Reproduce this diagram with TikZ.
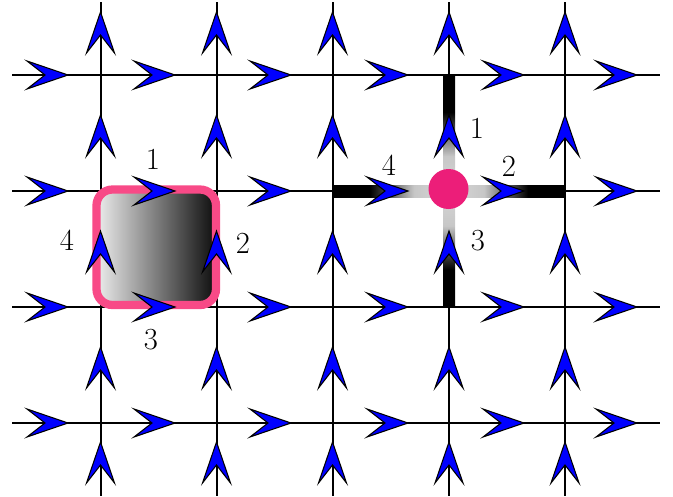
\documentclass[tikz,border=0pt]{standalone}
\definecolor{arrowblue}{RGB}{0,0,255}
\definecolor{boxpink}{RGB}{248,74,135}
\definecolor{dotpink}{RGB}{236,30,121}
\pgfdeclarehorizontalshading{armL}{100bp}{color(0bp)=(black); color(41bp)=(black); color(60bp)=(black!22); color(75bp)=(black!16); color(100bp)=(black!16)}
\pgfdeclarehorizontalshading{armR}{100bp}{color(0bp)=(black!16); color(25bp)=(black!16); color(40bp)=(black!22); color(59bp)=(black); color(100bp)=(black)}
\pgfdeclareverticalshading{armB}{100bp}{color(0bp)=(black); color(41bp)=(black); color(60bp)=(black!22); color(75bp)=(black!16); color(100bp)=(black!16)}
\pgfdeclareverticalshading{armT}{100bp}{color(0bp)=(black!16); color(25bp)=(black!16); color(40bp)=(black!22); color(59bp)=(black); color(100bp)=(black)}
\newcommand\myharrow[2]{\filldraw[arrowhead] (#1,#2) -- ++(-41,-14) -- ++(18,14) -- ++(-18,14) -- cycle;}
\newcommand\myvarrow[2]{\filldraw[arrowhead] (#1,#2) -- ++(-14,41) -- ++(14,-18) -- ++(14,18) -- cycle;}
\begin{document}
\begin{tikzpicture}[x=0.75pt,y=-0.75pt,
  gridline/.style={line width=1.5pt,black},
  arrowhead/.style={fill=arrowblue,draw=black,line width=0.8pt,line join=miter},
  pinkbox/.style={draw=boxpink,line width=6.2pt,rounded corners=12pt,left color=black!7,right color=black!95},
  hubdot/.style={circle,fill=dotpink,minimum size=30pt,inner sep=0pt},
  lbl/.style={inner sep=0pt,font=\fontsize{23}{27}\selectfont}]
\path[use as bounding box] (0,0) rectangle (673,496);
% grid
\foreach \y in {75,191,307,423} \draw[gridline] (12,\y) -- (660,\y);
\foreach \x in {100.5,216.5,332.5,449,565} \draw[gridline] (\x,2) -- (\x,496);
% faded arms around the hub
\shade[shading=armL] (332.5,185) rectangle (449,197);
\shade[shading=armR] (449,185) rectangle (565,197);
\shade[shading=armT] (443,75) rectangle (455,191);
\shade[shading=armB] (443,191) rectangle (455,307);
% pink box
\path[pinkbox] (96.5,189.5) rectangle (216,305);
% hub dot
\node[hubdot] (hub) at (448.5,189) {};
% arrows
\foreach \y in {75,191,307,423}
  \foreach \t in {68,175,291,408,524,637} {\myharrow{\t}{\y}}
\foreach \x in {100.5,216.5,332.5,449,565}
  \foreach \t in {12,115,231,347,442} {\myvarrow{\x}{\t}}
% labels
\node[lbl] (sq1) at (153,159) {1};
\node[lbl] (sq2) at (243,243) {2};
\node[lbl] (sq3) at (151,340) {3};
\node[lbl] (sq4) at (67,240) {4};
\node[lbl] (hub1) at (477,128) {1};
\node[lbl] (hub4) at (389,165) {4};
\node[lbl] (hub2) at (509,166) {2};
\node[lbl] (hub3) at (478,241) {3};
\end{tikzpicture}
\end{document}
